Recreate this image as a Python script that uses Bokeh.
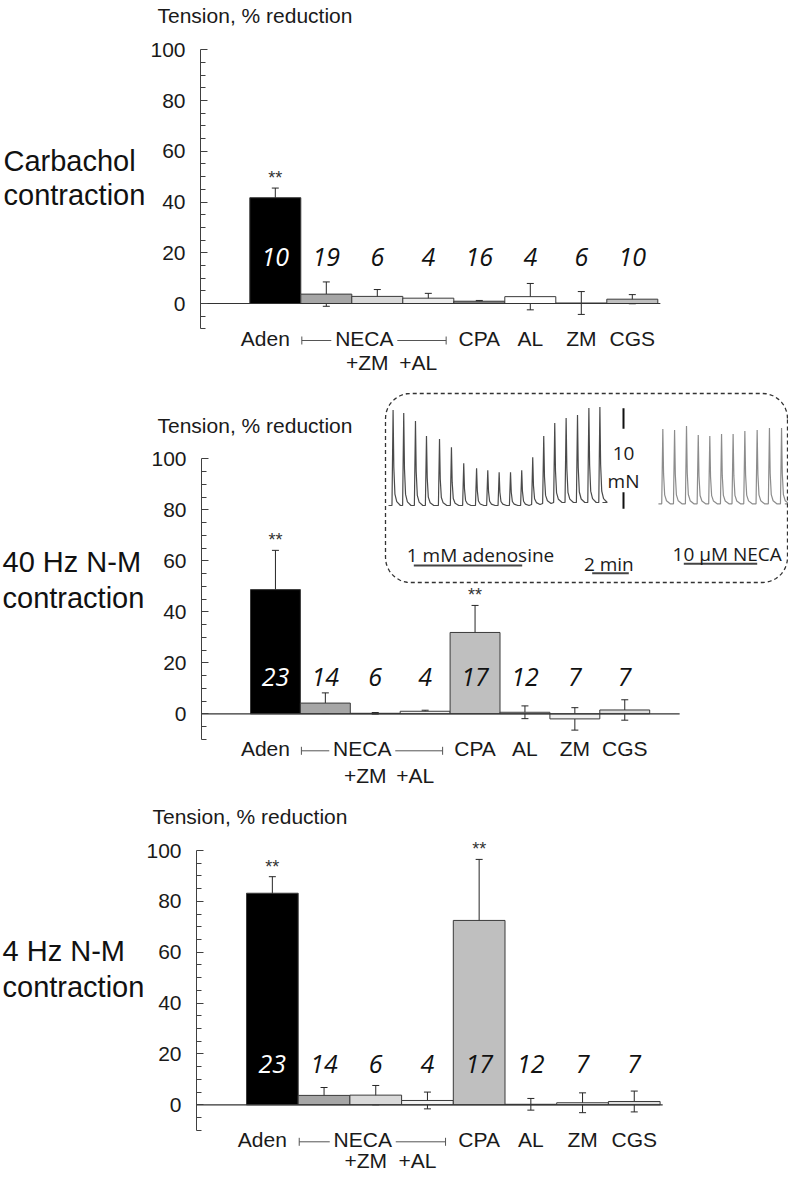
import numpy as np
from bokeh.plotting import figure
from bokeh.models import Range1d, ColumnDataSource, Whisker, TeeHead, FixedTicker
from bokeh.layouts import column
from bokeh.core.properties import value
from bokeh.embed import file_html
from bokeh.resources import INLINE

# ---------------- data ----------------
categories = ["Aden", "NECA", "+ZM", "+AL", "CPA", "AL", "ZM", "CGS"]

carb_mean = [41.7, 3.7, 2.8, 2.1, 0.9, 2.7, 0.2, 1.7]
carb_sem = [3.8, 4.8, 2.7, 1.9, 0.3, 5.2, 4.5, 1.8]
carb_n = [10, 19, 6, 4, 16, 4, 6, 10]
carb_sig = ["**", "", "", "", "", "", "", ""]

hz40_mean = [48.7, 4.2, 0.2, 1.0, 31.9, 0.6, -2.0, 1.5]
hz40_sem = [15.4, 4.0, 0.3, 0.4, 10.6, 2.5, 4.4, 4.0]
hz40_n = [23, 14, 6, 4, 17, 12, 7, 7]
hz40_sig = ["**", "", "", "", "**", "", "", ""]

hz4_mean = [83.2, 3.7, 3.8, 1.7, 72.5, 0.2, 0.8, 1.3]
hz4_sem = [6.5, 3.1, 3.8, 3.3, 24.0, 2.3, 3.9, 4.1]
hz4_n = [23, 14, 6, 4, 17, 12, 7, 7]
hz4_sig = ["**", "", "", "", "**", "", "", ""]

y_ticks = [0, 20, 40, 60, 80, 100]
y_minor = [-10, -5, 5, 10, 15, 25, 30, 35, 45, 50, 55, 65, 70, 75, 85, 90, 95]

carb_colors = ["#000000", "#a6a6a6", "#d9d9d9", "#ececec", "#7f7f7f", "#ffffff", "#ffffff", "#bfbfbf"]
nm_colors = ["#000000", "#a6a6a6", "#d9d9d9", "#f2f2f2", "#bfbfbf", "#ffffff", "#f0f0f0", "#dedede"]

# inset traces (time in min, tension in mN)
aden_peak_t = [0.25, 0.83, 1.47, 2.07, 2.78, 3.43, 4.10, 4.80, 5.41, 6.03,
               6.65, 7.26, 7.86, 8.46, 9.06, 9.68, 10.30, 10.92, 11.52]
aden_peak_h = [9.5, 9.2, 8.4, 6.9, 6.6, 5.8, 4.2, 3.7, 3.5, 3.3,
               3.3, 3.5, 4.8, 6.9, 8.2, 8.7, 9.0, 9.7, 9.8]
aden_base = [0, 0, 0, 0, 0, 0, 0, 0, 0, 0, 0, 0, 0.1, 0.2, 0.3, 0.3, 0.3, 0.3, 0.3]
aden_span = [0.0, 11.66]
neca_peak_t = [14.95, 15.59, 16.24, 16.88, 17.51, 18.15, 18.78, 19.42, 20.09, 20.76, 21.42]
neca_peak_h = [7.6, 7.5, 7.9, 7.0, 6.9, 7.1, 7.1, 7.4, 7.5, 7.7, 7.7]
neca_base = [0.17] * 11
neca_span = [14.71, 21.6]

FONT = "Liberation Sans"
W = 788


def make_panel(H, c100, c0, axis_px, w, first, mean, sem, n, sig, colors, n_y,
               tension_xy, side_text, side_xy, line2_dy, base_end):
    ppu = (c0 - c100) / 100.0
    y_top = 100 + c100 / ppu
    y_bot = -(H - c0) / ppu
    xa = 1 - first / w
    x0 = xa - axis_px / w
    x1 = xa + (W - axis_px) / w
    p = figure(width=W, height=H, x_range=Range1d(x0, x1),
               y_range=Range1d(y_bot, y_top), output_backend="svg",
               toolbar_location=None, x_axis_location=None, min_border=0,
               outline_line_color=None)
    p.grid.grid_line_color = None
    ya = p.yaxis[0]
    ya.fixed_location = xa
    ya.bounds = (-10, 100)
    ya.ticker = FixedTicker(ticks=y_ticks, minor_ticks=y_minor)
    ya.major_tick_in = 7
    ya.major_tick_out = 0
    ya.minor_tick_in = 5
    ya.minor_tick_out = 0
    ya.axis_line_color = "#404040"
    ya.major_tick_line_color = "#404040"
    ya.minor_tick_line_color = "#404040"
    ya.major_label_text_font = FONT
    ya.major_label_text_font_size = "21px"
    ya.major_label_text_color = "#1a1a1a"
    ya.major_label_standoff = 15

    def px2x(cx):
        return x0 + cx / w

    def py2y(cy):
        return y_top - cy / ppu

    idx = np.arange(len(categories))
    le = idx + 1.0
    centers = le + 0.5
    m = np.array(mean, dtype=float)
    s = np.array(sem, dtype=float)
    src = ColumnDataSource(dict(left=le, right=le + 1, x=centers, top=m, color=colors,
                                upper=m + s, lower=m - s, n=[str(v) for v in n],
                                ncol=["#ffffff"] + ["#111111"] * (len(n) - 1),
                                ny=[n_y] * len(n), sig=sig))
    p.quad(left="left", right="right", top="top", bottom=0, fill_color="color",
           line_color="#3a3a3a", line_width=1, source=src)
    p.segment(x0=xa, y0=0, x1=base_end, y1=0, line_color="#333333", line_width=1.2)
    p.add_layout(Whisker(source=src, base="x", upper="upper", lower="lower",
                         line_color="#262626", line_width=1,
                         upper_head=TeeHead(size=7, line_color="#262626", line_width=1),
                         lower_head=TeeHead(size=7, line_color="#262626", line_width=1)))
    p.text(x="x", y="ny", text="n", text_color="ncol", source=src,
           text_font=value("Open Sans"), text_font_style="italic", text_font_size="25px",
           text_align="center", text_baseline="middle")
    p.text(x="x", y="upper", text="sig", source=src, y_offset=-10,
           text_font=value(FONT), text_font_size="18px", text_color="#333333",
           text_align="center", text_baseline="middle")

    # category labels
    l1_src = ColumnDataSource(dict(
        x=[centers[0], centers[2], centers[4], centers[5], centers[6], centers[7]],
        t=[categories[0], categories[1], categories[4], categories[5], categories[6], categories[7]],
        xo=[-10, -13, 0, 0, 0, 0]))
    p.text(x="x", y=0, text="t", x_offset="xo", y_offset=35, source=l1_src,
           text_font=value(FONT), text_font_size="21px", text_color="#1a1a1a",
           text_align="center", text_baseline="middle")
    l2_src = ColumnDataSource(dict(x=[centers[2], centers[3]], t=[categories[2], categories[3]]))
    p.text(x="x", y=0, text="t", x_offset=-10, y_offset=line2_dy, source=l2_src,
           text_font=value(FONT), text_font_size="21px", text_color="#1a1a1a",
           text_align="center", text_baseline="middle")
    # NECA bracket
    by = -37 / ppu
    bl = le[1] + 0.02
    br = le[3] + 0.85
    s1 = centers[2] - (13 + 33) / w
    s2 = centers[2] + (-13 + 33) / w
    p.segment(x0=[bl, s2, bl, br], y0=[by, by, by - 4 / ppu, by - 4 / ppu],
              x1=[s1, br, bl, br], y1=[by, by, by + 4 / ppu, by + 4 / ppu],
              line_color="#555555", line_width=1)

    # header and side labels
    p.text(x=[px2x(tension_xy[0])], y=[py2y(tension_xy[1])], text=["Tension, % reduction"],
           text_font=value(FONT), text_font_size="21px", text_color="#1a1a1a",
           text_align="left", text_baseline="middle")
    p.text(x=[px2x(c[0]) for c in side_xy], y=[py2y(c[1]) for c in side_xy], text=side_text,
           text_font=value(FONT), text_font_size="29px", text_color="#111111",
           text_align="left", text_baseline="middle")
    return p


p1 = make_panel(388, 49.3, 303.0, 200, 51.0, 49.3, carb_mean, carb_sem, carb_n, carb_sig,
                carb_colors, 18.2, (157, 15), ["Carbachol", "contraction"],
                [(3, 160.3), (3, 194.6)], 59, 9.05)
p2 = make_panel(398, 70.3, 325.3, 201, 49.9, 49.0, hz40_mean, hz40_sem, hz40_n, hz40_sig,
                nm_colors, 14.3, (157, 36.5), ["40 Hz N-M", "contraction"],
                [(2, 173.3), (2, 209.9)], 62, 9.6)
p3 = make_panel(392, 64.0, 318.3, 196, 51.7, 50.0, hz4_mean, hz4_sem, hz4_n, hz4_sig,
                nm_colors, 16.1, (152, 30.1), ["4 Hz N-M", "contraction"],
                [(2, 164.3), (2, 200.3)], 56, 9.05)

# ---------------- inset (in panel 2), pixel-based local coordinates ----------------
MIN_PX = 18.35   # px per minute
MN_PX = 10.06    # px per mN
ox, oy = 388, 117  # inset origin within panel-2 frame (px from left, px from top)
p2.extra_x_ranges = {"ix": Range1d(-ox, W - ox)}
p2.extra_y_ranges = {"iy": Range1d(-(398 - oy), oy)}

shape_dt = [-0.06, 0.0, 0.04, 0.10, 0.20, 0.40]
shape_fr = [0.0, 1.0, 0.40, 0.12, 0.04, 0.0]


def build_trace(span, peaks_t, peaks_h, bases):
    xs = [span[0]]
    ys = [bases[0]]
    for tp, h, b in zip(peaks_t, peaks_h, bases):
        for dt, fr in zip(shape_dt, shape_fr):
            xs.append(tp + dt)
            ys.append(b + fr * (h - b))
    xs.append(span[1])
    ys.append(bases[-1])
    return np.array(xs) * MIN_PX, np.array(ys) * MN_PX


tx1, ty1 = build_trace(aden_span, aden_peak_t, aden_peak_h, aden_base)
tx2, ty2 = build_trace(neca_span, neca_peak_t, neca_peak_h, neca_base)
p2.line(tx1, ty1, line_color="#4a4a4a", line_width=1.2, x_range_name="ix", y_range_name="iy")
p2.line(tx2, ty2, line_color="#8c8c8c", line_width=1.2, x_range_name="ix", y_range_name="iy")


def rounded_rect(x0, x1, y0, y1, r):
    xs, ys = [], []
    for cx, cy, a0 in [(x1 - r, y1 - r, 0), (x0 + r, y1 - r, 90), (x0 + r, y0 + r, 180), (x1 - r, y0 + r, 270)]:
        a = np.radians(np.linspace(a0, a0 + 90, 12))
        xs += list(cx + r * np.cos(a))
        ys += list(cy + r * np.sin(a))
    xs.append(xs[0])
    ys.append(ys[0])
    return xs, ys


bx, byy = rounded_rect(-3, 399, -77, 112, 25)
p2.line(bx, byy, line_color="#333333", line_width=1.3, line_dash="4 3",
        x_range_name="ix", y_range_name="iy")

# scale bars
p2.segment(x0=[235, 235], y0=[97.3, 13.3], x1=[235, 235], y1=[76.7, -3.3],
           line_color="#111111", line_width=2, x_range_name="ix", y_range_name="iy")
p2.segment(x0=[25.3, 203.7, 295.3], y0=[-60, -67.7, -58.3], x1=[133.7, 240.3, 368.7],
           y1=[-60, -67.7, -58.3], line_color="#444444", line_width=2,
           x_range_name="ix", y_range_name="iy")
p2.text(x=[235, 235], y=[51.7, 25], text=["10", "mN"], text_font=value("Open Sans"),
        text_font_size="19px", text_color="#1a1a1a", text_align="center",
        text_baseline="middle", x_range_name="ix", y_range_name="iy")
p2.text(x=[92, 220.3, 338.7], y=[-49, -58.5, -48.3], text=["1 mM adenosine", "2 min", "10 \u00b5M NECA"],
        text_font=value("Open Sans"), text_font_size="19px", text_color="#1a1a1a",
        text_align="center", text_baseline="middle", x_range_name="ix", y_range_name="iy")

layout = column(p1, p2, p3)
open("out.html", "w").write(file_html(layout, INLINE, title="chart"))
